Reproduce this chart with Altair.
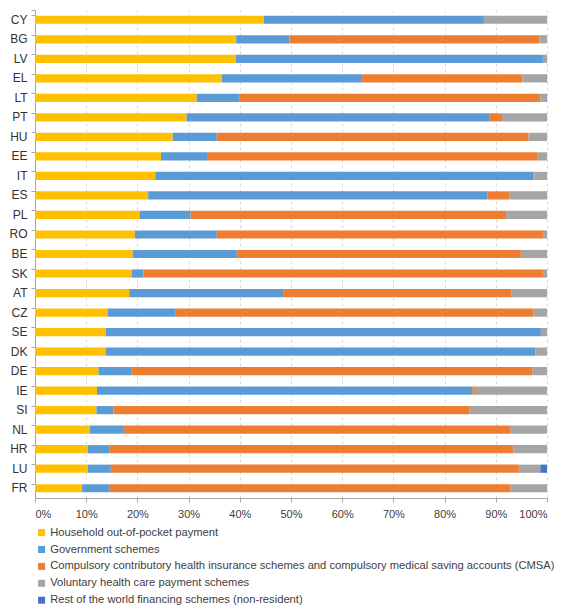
import altair as alt
import pandas as pd

countries = ["CY", "BG", "LV", "EL", "LT", "PT", "HU", "EE", "IT", "ES", "PL", "RO", "BE",
             "SK", "AT", "CZ", "SE", "DK", "DE", "IE", "SI", "NL", "HR", "LU", "FR"]

series = [
    "Household out-of-pocket payment",
    "Government schemes",
    "Compulsory contributory health insurance schemes and compulsory medical saving accounts (CMSA)",
    "Voluntary health care payment schemes",
    "Rest of the world financing schemes (non-resident)",
]
colors = ["#FFC000", "#5B9BD5", "#ED7D31", "#A5A5A5", "#4472C4"]

oop = [44.7, 39.3, 39.2, 36.5, 31.6, 29.6, 26.9, 24.6, 23.5, 22.1, 20.4, 19.5, 19.1,
       18.9, 18.4, 14.2, 13.8, 13.8, 12.4, 12.1, 12.0, 10.7, 10.3, 10.3, 9.2]
gov = [42.8, 10.4, 60.0, 27.4, 8.4, 59.1, 8.6, 9.0, 73.9, 66.3, 10.0, 16.0, 20.3,
       2.3, 30.2, 13.3, 85.0, 83.9, 6.5, 73.3, 3.3, 6.5, 4.3, 4.5, 5.4]
cmsa = [0.2, 48.8, 0.0, 31.3, 58.7, 2.5, 60.9, 64.6, 0.1, 4.2, 61.6, 63.7, 55.5,
        78.0, 44.5, 69.8, 0.0, 0.0, 78.3, 0.5, 69.6, 75.7, 78.8, 79.7, 78.3]
vol = [12.3, 1.5, 0.8, 4.7, 1.2, 8.8, 3.6, 1.8, 2.5, 7.4, 8.0, 0.8, 5.1,
       0.8, 6.9, 2.7, 1.2, 2.3, 2.8, 14.1, 15.1, 7.1, 6.6, 4.2, 7.1]
row = [0.0, 0.0, 0.0, 0.1, 0.1, 0.0, 0.0, 0.0, 0.0, 0.0, 0.0, 0.0, 0.0,
       0.0, 0.0, 0.0, 0.0, 0.0, 0.0, 0.0, 0.0, 0.0, 0.0, 1.3, 0.0]

records = []
for vals, name, idx in zip([oop, gov, cmsa, vol, row], series, range(5)):
    for c, v in zip(countries, vals):
        records.append({"country": c, "series": name, "value": v, "order": idx})
df = pd.DataFrame(records)

FONT = "Liberation Sans"

chart = alt.Chart(df).mark_bar().encode(
    y=alt.Y("country:N", sort=countries,
            scale=alt.Scale(paddingInner=0.58, paddingOuter=0.29),
            axis=alt.Axis(title=None, labelFontSize=12, labelColor="#333333", labelFont=FONT,
                          domainColor="#A6A6A6", tickColor="#A6A6A6", tickSize=4,
                          bandPosition=0, tickExtra=True, labelPadding=4)),
    x=alt.X("value:Q", stack="normalize",
            scale=alt.Scale(domain=[0, 1]),
            axis=alt.Axis(title=None, format=".0%", values=[0, 0.1, 0.2, 0.3, 0.4, 0.5, 0.6, 0.7, 0.8, 0.9, 1.0],
                          labelFontSize=11, labelColor="#404040", labelFont=FONT,
                          domainColor="#A6A6A6", tickColor="#A6A6A6", tickSize=4, labelPadding=6,
                          grid=True, gridColor="#D9D9D9", gridDash=[3, 3])),
    color=alt.Color("series:N", scale=alt.Scale(domain=series, range=colors),
                    legend=alt.Legend(title=None, orient="none", legendX=1, legendY=517,
                                      direction="vertical", symbolType="square", symbolSize=49,
                                      symbolStrokeWidth=0, labelFontSize=11.2, labelFont=FONT,
                                      labelColor="#404040", rowPadding=4.9, labelOffset=3,
                                      labelLimit=600, padding=0)),
    order=alt.Order("order:Q"),
).properties(
    width=512, height=488,
    autosize=alt.AutoSizeParams(type="none"),
    padding={"left": 27, "top": 2, "right": 7, "bottom": 108},
).configure_view(stroke=None)

chart.save("out.html", embed_options={"renderer": "svg", "actions": False})
